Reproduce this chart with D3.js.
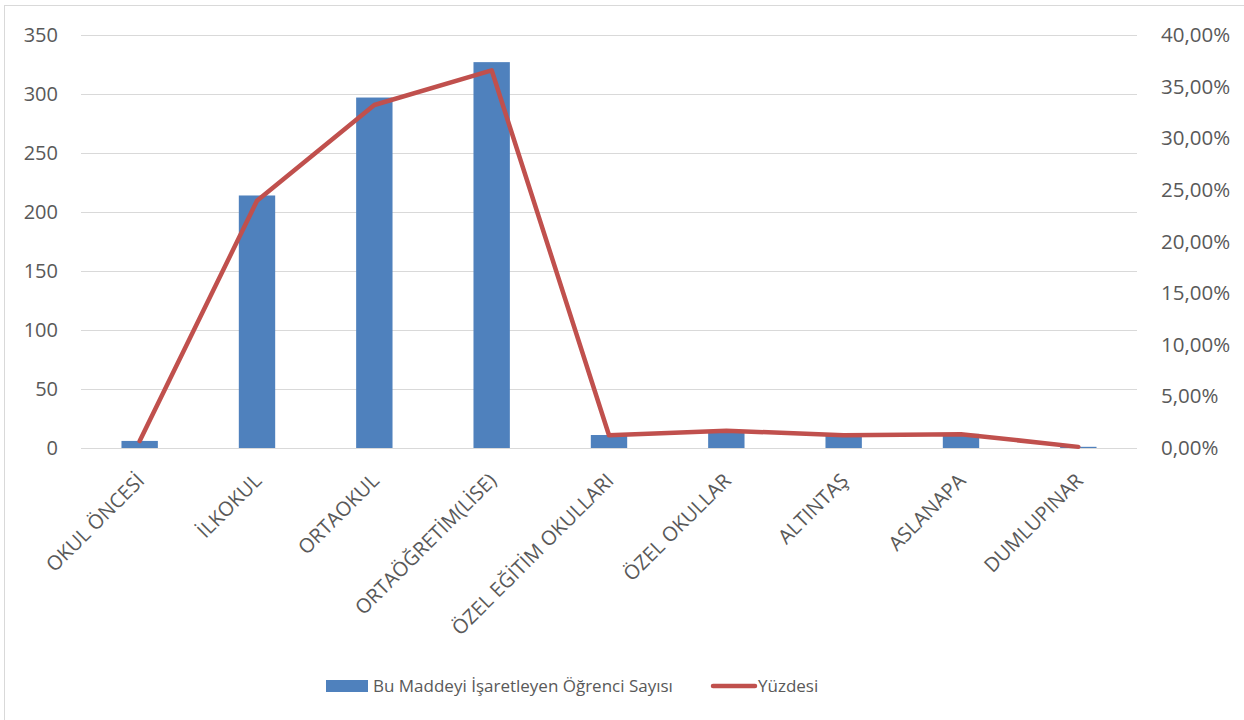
<!DOCTYPE html>
<html>
<head>
<meta charset="utf-8">
<script src="https://cdn.jsdelivr.net/npm/d3@7"></script>
<style>
html,body{margin:0;padding:0;background:#fff;}
svg{display:block;font-family:"Open Sans",sans-serif;}
</style>
</head>
<body>
<svg id="chart" width="1244" height="720"></svg>
<script>
const categories = ["OKUL ÖNCESİ","İLKOKUL","ORTAOKUL","ORTAÖĞRETİM(LİSE)","ÖZEL EĞİTİM OKULLARI","ÖZEL OKULLAR","ALTINTAŞ","ASLANAPA","DUMLUPINAR"];
const counts = [6, 214, 297, 327, 11, 15, 11, 12, 1];
const percents = [0.0067, 0.2394, 0.3322, 0.3658, 0.0123, 0.0168, 0.0123, 0.0134, 0.0011];
const leftTicks = [0, 50, 100, 150, 200, 250, 300, 350];
const rightTicks = [0, 0.05, 0.10, 0.15, 0.20, 0.25, 0.30, 0.35, 0.40];
const seriesNames = ["Bu Maddeyi İşaretleyen Öğrenci Sayısı", "Yüzdesi"];

const svg = d3.select("#chart");
const plotL = 81, plotR = 1137, plotT = 35, plotB = 448;
const barColor = "#4F81BD", lineColor = "#C0504D", textColor = "#595959", gridColor = "#D9D9D9";

// outer border
svg.append("rect").attr("x", 4.5).attr("y", 5.5).attr("width", 1300).attr("height", 800)
  .attr("fill", "none").attr("stroke", gridColor).attr("stroke-width", 1);

const x = d3.scaleBand().domain(categories).range([plotL, plotR]).paddingInner(0.69).paddingOuter(0.345);
const y = d3.scaleLinear().domain([0, 350]).range([plotB, plotT]);
const y2 = d3.scaleLinear().domain([0, 0.40]).range([plotB, plotT]);

// gridlines
svg.append("g").selectAll("line").data(leftTicks).join("line")
  .attr("x1", plotL).attr("x2", plotR)
  .attr("y1", d => Math.round(y(d)) + 0.5).attr("y2", d => Math.round(y(d)) + 0.5)
  .attr("stroke", gridColor).attr("stroke-width", 1);

// left axis
const ga = svg.append("g").attr("transform", `translate(${plotL},0)`)
  .call(d3.axisLeft(y).tickValues(leftTicks).tickSize(0).tickPadding(23));
ga.select(".domain").remove();
ga.selectAll("text").attr("fill", textColor).style("font-size", "20px").style("font-family", "Open Sans");

// right axis
const fmtPct = v => d3.format(".2f")(v * 100).replace(".", ",") + "%";
const gb = svg.append("g").attr("transform", `translate(${plotR},0)`)
  .call(d3.axisRight(y2).tickValues(rightTicks).tickSize(0).tickPadding(24).tickFormat(fmtPct));
gb.select(".domain").remove();
gb.selectAll("text").attr("fill", textColor).style("font-size", "20.5px").style("font-family", "Open Sans");

// bars
svg.append("g").selectAll("rect").data(categories).join("rect")
  .attr("x", d => x(d)).attr("width", x.bandwidth())
  .attr("y", (d, i) => y(counts[i])).attr("height", (d, i) => plotB - y(counts[i]))
  .attr("fill", barColor);

// line
const cx = d => x(d) + x.bandwidth() / 2;
const line = d3.line().x((d, i) => cx(categories[i])).y(d => y2(d));
svg.append("path").datum(percents).attr("d", line)
  .attr("fill", "none").attr("stroke", lineColor).attr("stroke-width", 4.5)
  .attr("stroke-linejoin", "round").attr("stroke-linecap", "round");

// x labels
svg.append("g").selectAll("text").data(categories).join("text")
  .attr("transform", d => `translate(${cx(d) + 1},${477}) rotate(-45)`)
  .attr("text-anchor", "end").attr("dy", "0.35em")
  .attr("fill", textColor).style("font-size", "20px")
  .text(d => d);

// legend
const lg = svg.append("g");
lg.append("rect").attr("x", 326).attr("y", 680).attr("width", 42).attr("height", 12).attr("fill", barColor);
lg.append("text").attr("x", 373).attr("y", 686).attr("dy", "0.35em")
  .attr("fill", textColor).style("font-size", "17px").text(seriesNames[0]);
lg.append("line").attr("x1", 713).attr("x2", 755).attr("y1", 686).attr("y2", 686)
  .attr("stroke", lineColor).attr("stroke-width", 4.5).attr("stroke-linecap", "round");
lg.append("text").attr("x", 758).attr("y", 686).attr("dy", "0.35em")
  .attr("fill", textColor).style("font-size", "17px").text(seriesNames[1]);
</script>
</body>
</html>
